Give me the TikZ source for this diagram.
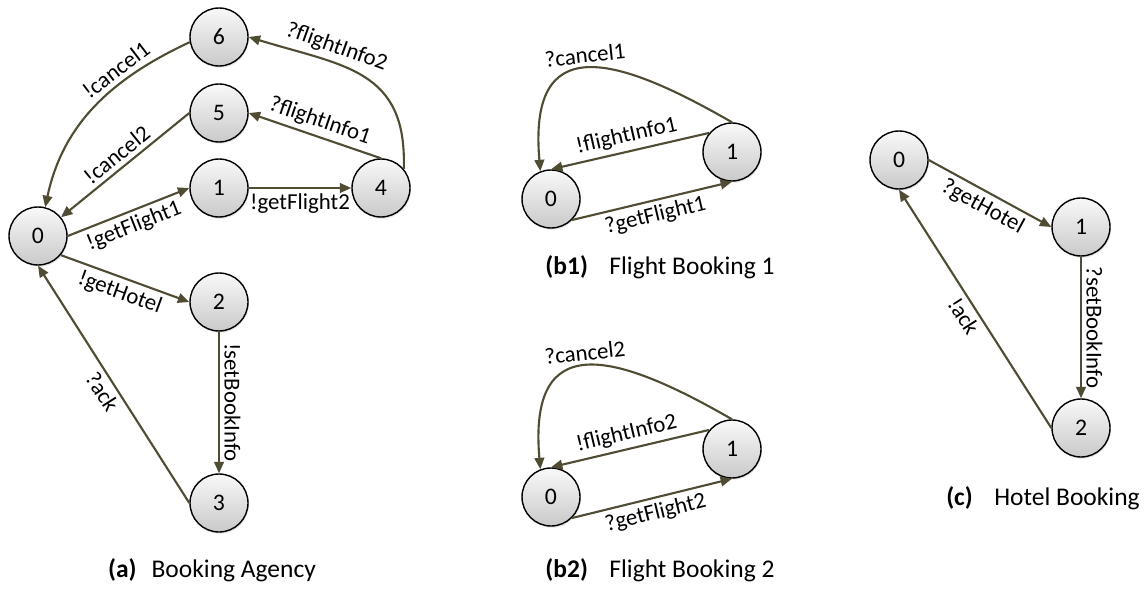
\documentclass[tikz,border=0pt]{standalone}
\usepackage{fontspec}
\setmainfont{Carlito}
\usetikzlibrary{arrows.meta,shadows}

\definecolor{edgecol}{RGB}{80,76,52}
\tikzset{
  state/.style={circle, draw=black, line width=0.8pt, minimum size=1.16cm, inner sep=0pt,
    top color=gray!5, bottom color=gray!42,
    drop shadow={opacity=0.2, shadow xshift=0.5pt, shadow yshift=-1pt},
    font=\fontsize{13.5}{14}\selectfont},
  trans/.style={draw=edgecol, line width=1.2pt, -{Triangle[length=6.5pt,width=5.5pt]}},
  lbl/.style={font=\fontsize{13}{14}\selectfont, inner sep=2.5pt, sloped},
  caption/.style={font=\fontsize{14.5}{15}\selectfont}
}

\begin{document}
\begin{tikzpicture}
\useasboundingbox (0,0) rectangle (22.96,11.8);
% (a) booking agency
\node[state] (a0) at (0.76,7.08) {0};
\node[state] (a1) at (4.38,8.04) {1};
\node[state] (a2) at (4.38,5.76) {2};
\node[state] (a3) at (4.38,1.74) {3};
\node[state] (a4) at (7.62,8.04) {4};
\node[state] (a5) at (4.38,9.54) {5};
\node[state] (a6) at (4.38,11.06) {6};
\draw[trans] (a0.east) -- node[lbl,below] {!getFlight1} (a1.west);
\draw[trans] (a1) -- node[lbl,below] {!getFlight2} (a4);
\draw[trans] (a4.north) -- node[lbl,above] {?flightInfo1} (a5.east);
\draw[trans] (a4.40) to[out=88,in=-17,looseness=1.25] node[lbl,above,pos=0.67] {?flightInfo2} (a6.east);
\draw[trans] (a5.west) -- node[lbl,above] {!cancel2} (a0);
\draw[trans] (a6.190) to[out=205,in=78] node[lbl,above,pos=0.32] {!cancel1} (a0.76);
\draw[trans] (a0.-40) -- node[lbl,below] {!getHotel} (a2.west);
\draw[trans] (a2) -- node[lbl,above,allow upside down] {!setBookInfo} (a3);
\draw[trans] (a3.west) -- node[lbl,below] {?ack} (a0.south);
\node[caption] (capa) at (4.24,0.40) {\textbf{(a)}\hspace{0.3cm}Booking Agency};

% (b1) flight booking 1
\node[state] (fa0) at (11.02,7.82) {0};
\node[state] (fa1) at (14.64,8.76) {1};
\draw[trans] (fa0.-45) -- node[lbl,below] {?getFlight1} (fa1.south);
\draw[trans] (fa1.140) -- node[lbl,above] {!flightInfo1} (fa0.north);
\draw[trans] (fa1.north) to[out=150,in=95,looseness=1.8] node[lbl,above] {?cancel1} (fa0.111);
\node[caption] (capb1) at (13.2,6.46) {\textbf{(b1)}\hspace{0.43cm}Flight Booking 1};

% (b2) flight booking 2
\node[state] (fb0) at (11.02,1.86) {0};
\node[state] (fb1) at (14.64,2.82) {1};
\draw[trans] (fb0.-45) -- node[lbl,below] {?getFlight2} (fb1.south);
\draw[trans] (fb1.140) -- node[lbl,above] {!flightInfo2} (fb0.north);
\draw[trans] (fb1.north) to[out=150,in=95,looseness=1.8] node[lbl,above] {?cancel2} (fb0.111);
\node[caption] (capb2) at (13.2,0.40) {\textbf{(b2)}\hspace{0.43cm}Flight Booking 2};

% (c) hotel booking
\node[state] (h0) at (17.98,8.60) {0};
\node[state] (h1) at (21.62,7.26) {1};
\node[state] (h2) at (21.62,3.24) {2};
\draw[trans] (h0.east) -- node[lbl,below] {?getHotel} (h1.west);
\draw[trans] (h1) -- node[lbl,above,allow upside down] {?setBookInfo} (h2);
\draw[trans] (h2.west) -- node[lbl,below] {!ack} (h0.south);
\node[caption] (capc) at (20.86,1.84) {\textbf{(c)}\hspace{0.43cm}Hotel Booking};
\end{tikzpicture}
\end{document}
